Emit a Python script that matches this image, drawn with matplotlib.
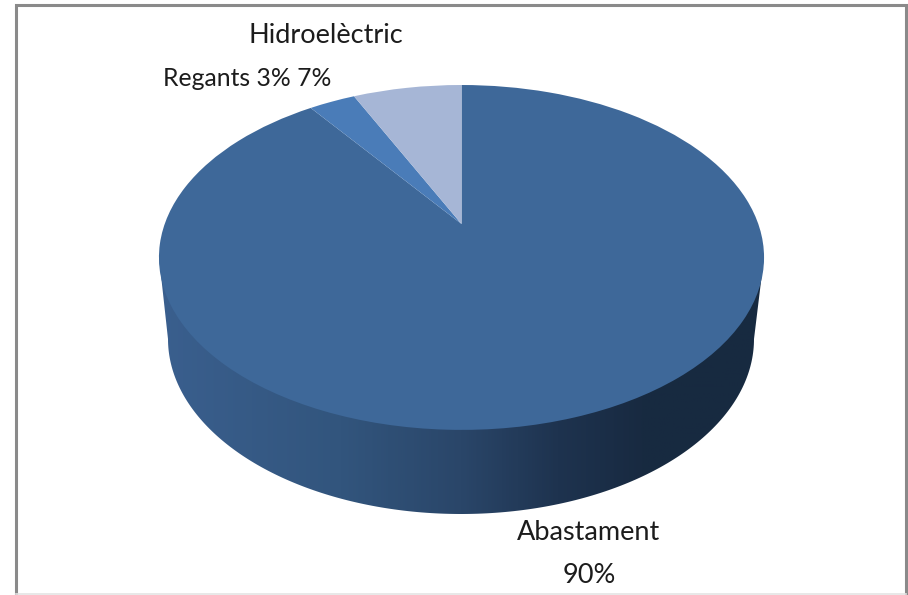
import numpy as np
import matplotlib
matplotlib.use('Agg')
import matplotlib.pyplot as plt
from matplotlib.colors import LinearSegmentedColormap
from matplotlib.patches import Polygon
from matplotlib.transforms import Transform

CATEGORIES = ['Abastament', 'Regants', 'Hidroelèctric']
VALUES = [90, 3, 7]
COLORS = ['#3e6899', '#4a7cb8', '#a6b6d6']

SIDE_STOPS = [(0.0, '#3a5f8e'), (0.3, '#32557d'), (0.5, '#2a4669'),
              (0.66, '#1e334f'), (0.8, '#182a41'), (1.0, '#172a40')]

TEXT_FONT = ['Lato', 'DejaVu Sans']
TEXT_SIZE = 19.5
TEXT_COLOR = '#1c1c1c'


# the pie is tilted with perspective, so the centre is not the middle of the ellipse
class Tilt(Transform):
    input_dims = 2
    output_dims = 2
    is_affine = False

    def transform_non_affine(self, xy):
        xy = np.asarray(xy, dtype=float)
        w = 1 + 0.194 * xy[:, 1]
        return np.column_stack((461.5 + 296.8 * xy[:, 0] / w,
                                (224 - 122.5 * xy[:, 1]) / w))

    def inverted(self):
        raise NotImplementedError


fig = plt.figure(figsize=(9.08, 5.95), dpi=100)
ax = fig.add_axes([0, 0, 1, 1])

# side wall
t = np.linspace(np.pi, 0, 200)
side_x = np.concatenate((461 + 293 * np.cos(t), [764, 159]))
side_y = np.concatenate((339 + 175 * np.sin(t), [257, 257]))
side = Polygon(np.column_stack((side_x, side_y)), closed=True, transform=ax.transData)
cmap = LinearSegmentedColormap.from_list('side', SIDE_STOPS)
img = ax.imshow(np.linspace(0, 1, 600).reshape(1, -1), cmap=cmap, aspect='auto',
                extent=(159, 764, 520, 250), zorder=1)
img.set_clip_path(side)

# top of the pie
wedges, _ = ax.pie(VALUES, colors=COLORS, startangle=90, counterclock=False,
                   wedgeprops={'transform': Tilt() + ax.transData, 'edgecolor': 'none',
                               'linewidth': 0, 'zorder': 2})

ax.set_aspect('auto')
ax.set_xlim(0, 908)
ax.set_ylim(595, 0)
ax.axis('off')

# frame
ax.plot([15.5, 15.5, 906, 906], [595, 4.5, 4.5, 595], color='#8a8a8a', lw=2.2, zorder=3,
        solid_joinstyle='miter')
ax.plot([15.5, 906], [593.5, 593.5], color='#e4e4e4', lw=1.2, zorder=3)

# labels
lab = dict(family=TEXT_FONT, color=TEXT_COLOR, ha='center', va='baseline', zorder=4)
ax.text(325.5, 43, CATEGORIES[2], fontsize=TEXT_SIZE, **lab)
ax.text(247, 86, '%s %d%% %d%%' % (CATEGORIES[1], VALUES[1], VALUES[2]), fontsize=17.8, **lab)
ax.text(589, 540, CATEGORIES[0], fontsize=TEXT_SIZE, **lab)
ax.text(589.5, 583, '%d%%' % VALUES[0], fontsize=TEXT_SIZE, **lab)

fig.savefig('out.png', dpi=100)
